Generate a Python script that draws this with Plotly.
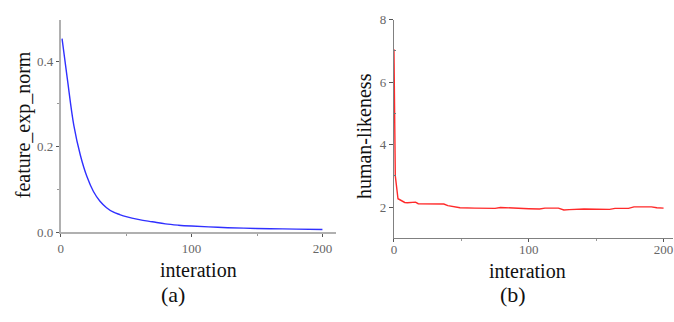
import plotly.graph_objects as go

W, H = 674, 322

# Panel (a): feature_exp_norm vs interation
iter_a = [1, 5, 10, 15, 20, 25, 30, 35, 40, 45, 50, 60, 70, 80, 90, 100, 120, 140, 160, 180, 200]
feat_norm = [0.453, 0.360, 0.250, 0.180, 0.130, 0.095, 0.072, 0.057, 0.047, 0.041, 0.036,
             0.029, 0.024, 0.019, 0.016, 0.014, 0.011, 0.009, 0.0078, 0.0068, 0.006]

# Panel (b): human-likeness vs interation
iter_b = [0, 1, 3, 5, 8, 10, 14, 16, 18, 25, 30, 37, 40, 45, 49, 60, 70, 75, 79, 90, 100,
          108, 112, 122, 126, 130, 141, 160, 164, 174, 178, 191, 195, 200]
human_like = [7.05, 3.0, 2.27, 2.22, 2.15, 2.14, 2.15, 2.16, 2.11, 2.10, 2.10, 2.10, 2.05,
              2.01, 1.98, 1.97, 1.97, 1.96, 1.99, 1.96, 1.95, 1.94, 1.97, 1.97, 1.91, 1.92,
              1.94, 1.93, 1.96, 1.96, 2.01, 2.01, 1.98, 1.97]

x_ticks = [0, 100, 200]
ya_ticks = [0.0, 0.2, 0.4]
ya_labels = ["0.0", "0.2", "0.4"]
yb_ticks = [2, 4, 6, 8]

FONT = "Liberation Serif, Times New Roman, serif"
TICKC = "#666666"

def px(x):
    return x / W

def py(y):
    return 1 - y / H

fig = go.Figure()
fig.add_trace(go.Scatter(x=iter_a, y=feat_norm, mode="lines", line=dict(color="#3030ff", width=1.4, shape="spline"),
                         xaxis="x", yaxis="y", showlegend=False))
fig.add_trace(go.Scatter(x=iter_b, y=human_like, mode="lines", line=dict(color="#ff2a2a", width=1.4),
                         xaxis="x2", yaxis="y2", showlegend=False))

common_tick = dict(tickfont=dict(family=FONT, size=13, color=TICKC), showgrid=False, zeroline=False)

fig.update_layout(
    width=W, height=H,
    margin=dict(l=0, r=0, t=0, b=0),
    paper_bgcolor="white", plot_bgcolor="white",
    xaxis=dict(domain=[px(58), px(334)], range=[0, 210], anchor="y",
               showline=True, linecolor="#b0b0b0", linewidth=2,
               tickmode="array", tickvals=x_ticks, ticks="outside", ticklen=3, tickcolor="#555",
               minor=dict(tickvals=[50, 150], ticks="outside", ticklen=2, tickcolor="#999"),
               **common_tick),
    yaxis=dict(domain=[py(236), py(14)], range=[0, 0.496], anchor="x",
               showline=True, linecolor="#b0b0b0", linewidth=2,
               tickmode="array", tickvals=ya_ticks, ticktext=ya_labels, ticks="outside", ticklen=3, tickcolor="#555",
               minor=dict(tickvals=[0.1, 0.3], ticks="outside", ticklen=2, tickcolor="#999"),
               **common_tick),
    xaxis2=dict(domain=[px(392.7), px(673)], range=[0, 207], anchor="y2",
                showline=True, linecolor="#808080", linewidth=1,
                tickmode="array", tickvals=x_ticks, ticks="outside", ticklen=3, tickcolor="#555",
                ticklabelstandoff=-4,
                minor=dict(tickvals=[50, 150], ticks="outside", ticklen=2, tickcolor="#999"),
                **common_tick),
    yaxis2=dict(domain=[py(242.7), py(13.3)], range=[1, 8], anchor="x2",
                showline=True, linecolor="#808080", linewidth=1,
                tickmode="array", tickvals=yb_ticks, ticks="outside", ticklen=4, tickcolor="#555",
                minor=dict(tickvals=[3, 5, 7], ticks="inside", ticklen=2, tickcolor="#777"),
                **common_tick),
)

ann = [
    dict(text="feature_exp_norm", x=px(20), y=py(123), textangle=-90, size=20),
    dict(text="interation", x=px(196), y=py(276), textangle=0, size=20),
    dict(text="(a)", x=px(171), y=py(302), textangle=0, size=22),
    dict(text="human-likeness", x=px(362), y=py(135), textangle=-90, size=20),
    dict(text="interation", x=px(527), y=py(277), textangle=0, size=20),
    dict(text="(b)", x=px(512), y=py(302), textangle=0, size=22),
]
for a in ann:
    fig.add_annotation(text=a["text"], x=a["x"], y=a["y"], xref="paper", yref="paper",
                       xanchor="center", yanchor="middle", showarrow=False, textangle=a["textangle"],
                       font=dict(family=FONT, size=a["size"], color="#111111"))

fig.write_html("out.html", config={"displayModeBar": False})

with open("out.html", "r", encoding="utf-8") as f:
    html = f.read()
html = html.replace("<head>", "<head><style>html,body{margin:0;padding:0;overflow:hidden;}</style>", 1)
with open("out.html", "w", encoding="utf-8") as f:
    f.write(html)
